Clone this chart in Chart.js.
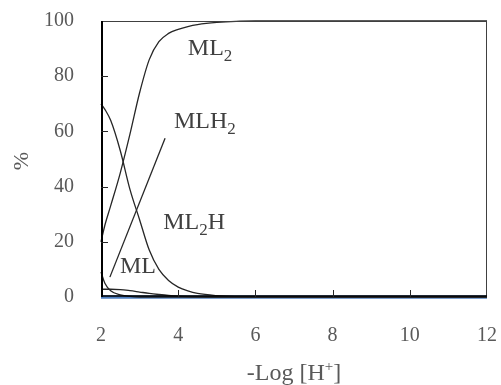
<!DOCTYPE html>
<html><head><meta charset="utf-8">
<script src="https://cdn.jsdelivr.net/npm/chart.js@4.4.0/dist/chart.umd.min.js"></script>
<style>html,body{margin:0;padding:0;background:#fff;}#wrap{width:501px;height:385px;}</style>
</head><body><div id="wrap"><canvas id="c" width="501" height="385"></canvas></div>
<script>
// -Log[H+] grid
const pH = [2, 2.1, 2.25, 2.5, 2.75, 3, 3.25, 3.5, 3.75, 4, 4.25, 4.5, 5, 5.5, 6, 7, 8, 9, 10, 11, 12];
// species distribution (%)
const seriesML2  = [20, 26, 33, 45, 59, 74, 86, 92.5, 95.5, 97, 98, 98.7, 99.5, 99.9, 100, 100, 100, 100, 100, 100, 100];
const seriesMLH2 = [70, 68, 64, 53, 39, 28, 17, 10, 6, 3.6, 2.2, 1.3, 0.5, 0.15, 0, 0, 0, 0, 0, 0, 0];
const seriesML   = [9, 5, 2.3, 0.8, 0.2, 0, 0, 0, 0, 0, 0, 0, 0, 0, 0, 0, 0, 0, 0, 0, 0];
const seriesML2H = [2.8, 2.8, 2.8, 2.7, 2.3, 1.8, 1.3, 0.9, 0.55, 0.3, 0.15, 0.05, 0, 0, 0, 0, 0, 0, 0, 0, 0];
const seriesM    = [0, 0, 0, 0, 0, 0, 0, 0, 0, 0, 0, 0, 0, 0, 0, 0, 0, 0, 0, 0, 0];
// straight pointer line
const leaderX = [2.23, 3.66];
const leaderY = [7.2, 57.5];
// axis ticks
const xTicks = [2, 4, 6, 8, 10, 12];
const yTicks = [0, 20, 40, 60, 80, 100];
// species labels: text parts and data-space anchor
const labelMain = ['ML', 'MLH', 'ML', 'ML'];
const labelSub  = ['2', '2', '2', ''];
const labelTail = ['', '', 'H', ''];
const labelAtX  = [4.25, 3.89, 3.61, 2.49];
const labelAtY  = [87.7, 61.2, 24.8, 8.6];
const xTitleMain = '-Log [H';
const xTitleSup = '+';
const xTitleEnd = ']';
const yTitle = '%';

const SERIF = '"Liberation Serif", "Times New Roman", serif';
const pts = (arr) => pH.map((x, i) => ({x: x, y: arr[i]}));
const curve = (arr) => ({data: pts(arr), borderColor: '#262626', borderWidth: 1.3, pointRadius: 0,
  cubicInterpolationMode: 'monotone', fill: false, clip: false});

const deco = {
  id: 'deco',
  afterDatasetsDraw(chart) {
    const {ctx, chartArea: a, scales: {x, y}} = chart;
    ctx.save();
    // frame
    ctx.strokeStyle = '#404040'; ctx.lineWidth = 1;
    ctx.beginPath(); ctx.moveTo(a.left, a.top + 0.5); ctx.lineTo(a.right, a.top + 0.5);
    ctx.moveTo(a.right - 0.5, a.top); ctx.lineTo(a.right - 0.5, a.bottom); ctx.stroke();
    ctx.strokeStyle = '#000'; ctx.lineWidth = 2;
    ctx.beginPath(); ctx.moveTo(a.left + 1, a.top); ctx.lineTo(a.left + 1, a.bottom); ctx.stroke();
    ctx.lineWidth = 1.6;
    ctx.beginPath(); ctx.moveTo(a.left, a.bottom - 1); ctx.lineTo(a.right, a.bottom - 1); ctx.stroke();
    // inward ticks
    ctx.lineWidth = 1; ctx.strokeStyle = '#262626';
    ctx.beginPath();
    yTicks.slice(1, -1).forEach(v => { const py = Math.round(y.getPixelForValue(v)) + 0.5; ctx.moveTo(a.left, py); ctx.lineTo(a.left + 7, py); });
    xTicks.slice(1, -1).forEach(v => { const px = Math.round(x.getPixelForValue(v)) + 0.5; ctx.moveTo(px, a.bottom); ctx.lineTo(px, a.bottom - 7); });
    ctx.stroke();
    // species labels
    ctx.fillStyle = '#404040'; ctx.textBaseline = 'alphabetic'; ctx.textAlign = 'left';
    labelMain.forEach((m, i) => {
      let px = x.getPixelForValue(labelAtX[i]); const py = y.getPixelForValue(labelAtY[i]);
      ctx.font = '24px ' + SERIF; ctx.fillText(m, px, py); px += ctx.measureText(m).width;
      if (labelSub[i]) { ctx.font = '17px ' + SERIF; ctx.fillText(labelSub[i], px, py + 6); px += ctx.measureText(labelSub[i]).width; }
      if (labelTail[i]) { ctx.font = '24px ' + SERIF; ctx.fillText(labelTail[i], px, py); }
    });
    // x title
    ctx.fillStyle = '#595959';
    ctx.font = '24px ' + SERIF; const w1 = ctx.measureText(xTitleMain).width, w3 = ctx.measureText(xTitleEnd).width;
    ctx.font = '15px ' + SERIF; const w2 = ctx.measureText(xTitleSup).width;
    let tx = (a.left + a.right) / 2 - (w1 + w2 + w3) / 2; const ty = 380;
    ctx.font = '24px ' + SERIF; ctx.fillText(xTitleMain, tx, ty); tx += w1;
    ctx.font = '15px ' + SERIF; ctx.fillText(xTitleSup, tx, ty - 9); tx += w2;
    ctx.font = '24px ' + SERIF; ctx.fillText(xTitleEnd, tx, ty);
    // y title
    ctx.translate(22, (a.top + a.bottom) / 2 + 2); ctx.rotate(-Math.PI / 2);
    ctx.textAlign = 'center'; ctx.textBaseline = 'middle'; ctx.font = '22px ' + SERIF;
    ctx.fillText(yTitle, 0, 0);
    ctx.restore();
  }
};

const noPad = s => { s.paddingLeft = 0; s.paddingRight = 0; s.paddingTop = 0; s.paddingBottom = 0; };

new Chart(document.getElementById('c'), {
  type: 'line',
  data: {datasets: [
    curve(seriesML2), curve(seriesMLH2), curve(seriesML), curve(seriesML2H),
    {data: leaderX.map((v, i) => ({x: v, y: leaderY[i]})), borderColor: '#262626', borderWidth: 1.3, pointRadius: 0, tension: 0, clip: false},
    {data: pts(seriesM), borderColor: '#4f7fbf', borderWidth: 3.5, pointRadius: 0, tension: 0, clip: false}
  ]},
  options: {
    responsive: false, animation: false, devicePixelRatio: 1,
    layout: {padding: {left: 0, right: 14, top: 21, bottom: 0}},
    plugins: {legend: {display: false}, tooltip: {enabled: false}},
    scales: {
      x: {type: 'linear', min: 2, max: 12, afterBuildTicks: s => { s.ticks = xTicks.map(v => ({value: v})); },
        grid: {display: false}, border: {display: false},
        ticks: {color: '#595959', font: {family: SERIF, size: 20}, padding: 19, maxRotation: 0},
        afterFit: s => { s.height = 88; noPad(s); }},
      y: {type: 'linear', min: 0, max: 100, afterBuildTicks: s => { s.ticks = yTicks.map(v => ({value: v})); },
        grid: {display: false}, border: {display: false},
        ticks: {color: '#595959', font: {family: SERIF, size: 20}, padding: 19},
        afterFit: s => { s.width = 101; noPad(s); }}
    }
  },
  plugins: [deco]
});
</script></body></html>
